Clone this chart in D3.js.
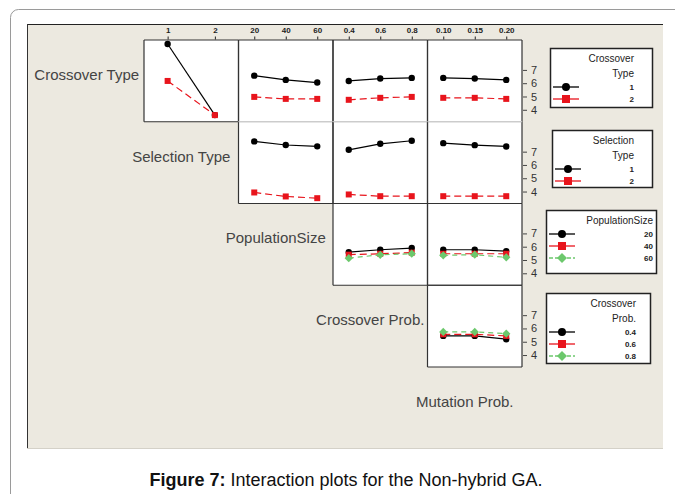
<!DOCTYPE html>
<html>
<head>
<meta charset="utf-8">
<script src="https://cdn.jsdelivr.net/npm/d3@7"></script>
<style>
  body { margin: 0; background: #fff; }
  svg { display: block; }
  text { font-family: "Liberation Sans", Arial, sans-serif; }
</style>
</head>
<body>
<div id="chart"></div>
<script>
// factors of the matrix, in row/column order
var factors = ['Crossover Type', 'Selection Type', 'PopulationSize', 'Crossover Prob.', 'Mutation Prob.'];
var levels = [
  ['1', '2'],
  ['1', '2'],
  ['20', '40', '60'],
  ['0.4', '0.6', '0.8'],
  ['0.10', '0.15', '0.20']
];
var yTicks = [4, 5, 6, 7];

// mean response, one array per trace level (row factor) against column factor
var crossTypeSel = [[8.95, 3.60], [6.17, 3.60]];
var crossTypePop = [[6.57, 6.25, 6.05], [4.97, 4.82, 4.82]];
var crossTypeCP  = [[6.17, 6.35, 6.40], [4.75, 4.90, 4.97]];
var crossTypeMP  = [[6.40, 6.35, 6.25], [4.90, 4.90, 4.82]];
var selTypePop   = [[7.77, 7.50, 7.40], [3.93, 3.63, 3.50]];
var selTypeCP    = [[7.14, 7.59, 7.82], [3.78, 3.65, 3.65]];
var selTypeMP    = [[7.64, 7.49, 7.39], [3.65, 3.65, 3.65]];
var popCP        = [[5.59, 5.77, 5.90], [5.40, 5.47, 5.55], [5.14, 5.39, 5.47]];
var popMP        = [[5.77, 5.77, 5.67], [5.47, 5.47, 5.47], [5.35, 5.40, 5.20]];
var cpMP         = [[5.44, 5.44, 5.19], [5.56, 5.56, 5.44], [5.74, 5.74, 5.61]];

var panels = [
  { row: 0, col: 1, data: crossTypeSel },
  { row: 0, col: 2, data: crossTypePop },
  { row: 0, col: 3, data: crossTypeCP },
  { row: 0, col: 4, data: crossTypeMP },
  { row: 1, col: 2, data: selTypePop },
  { row: 1, col: 3, data: selTypeCP },
  { row: 1, col: 4, data: selTypeMP },
  { row: 2, col: 3, data: popCP },
  { row: 2, col: 4, data: popMP },
  { row: 3, col: 4, data: cpMP }
];

var colors = ['#000', '#e8141c', '#6cc86c'];
var dashes = [null, '7,4', '5,4'];

var width = 675, height = 494;
var gridLeft = 144 - 94.5, gridTop = 40, cellW = 94.5, cellH = 81.75;

var svg = d3.select('#chart').append('svg')
  .attr('width', width)
  .attr('height', height);

// card border
svg.append('rect')
  .attr('x', 10.5).attr('y', 9.5)
  .attr('width', 700).attr('height', 520)
  .attr('rx', 8)
  .attr('fill', 'none')
  .attr('stroke', '#9a9a9a');

// plot background
svg.append('rect')
  .attr('x', 27).attr('y', 24)
  .attr('width', 636).attr('height', 424)
  .attr('fill', '#ece9e0');
svg.append('line').attr('x1', 27).attr('x2', 663).attr('y1', 24.5).attr('y2', 24.5).attr('stroke', '#222');
svg.append('line').attr('x1', 27.5).attr('x2', 27.5).attr('y1', 24).attr('y2', 448).attr('stroke', '#333');
svg.append('line').attr('x1', 27).attr('x2', 663).attr('y1', 448.5).attr('y2', 448.5).attr('stroke', '#d4d1c8');

function colX(c) { return gridLeft + c * cellW; }
function rowY(r) { return gridTop + r * cellH; }

function xScale(c) {
  return d3.scalePoint().domain(levels[c]).range([colX(c), colX(c) + cellW]).padding(0.5);
}
function yScale(r) {
  return d3.scaleLinear().domain([3.1, 9.25]).range([rowY(r) + cellH, rowY(r)]);
}

// circle, square, diamond (square turned 45 degrees)
var symbols = [d3.symbolCircle, d3.symbolSquare, d3.symbolSquare];
var rotate = [0, 0, 45];

function drawMarker(g, i, x, y, s) {
  g.append('path')
    .attr('d', d3.symbol().type(symbols[i]).size(s))
    .attr('transform', 'translate(' + x + ',' + y + ') rotate(' + rotate[i] + ')')
    .attr('fill', colors[i]);
}

// white panels
panels.forEach(function (p) {
  svg.append('rect')
    .attr('x', colX(p.col)).attr('y', rowY(p.row))
    .attr('width', cellW).attr('height', cellH)
    .attr('fill', '#fff');
});

// panel borders
panels.forEach(function (p) {
  var x0 = colX(p.col), y0 = rowY(p.row);
  var g = svg.append('g').attr('stroke-width', 1.2);
  g.append('line').attr('x1', x0).attr('x2', x0).attr('y1', y0).attr('y2', y0 + cellH).attr('stroke', '#333');
  g.append('line').attr('x1', x0 + cellW).attr('x2', x0 + cellW).attr('y1', y0).attr('y2', y0 + cellH).attr('stroke', '#333');
  g.append('line').attr('x1', x0).attr('x2', x0 + cellW).attr('y1', y0).attr('y2', y0)
    .attr('stroke', p.row === 1 && p.col > 1 ? '#c8c8c8' : '#333');
  g.append('line').attr('x1', x0).attr('x2', x0 + cellW).attr('y1', y0 + cellH).attr('y2', y0 + cellH)
    .attr('stroke', p.row === 0 && p.col > 1 ? '#c8c8c8' : '#333');
});

// interaction lines and markers
panels.forEach(function (p) {
  var x = xScale(p.col), y = yScale(p.row);
  var g = svg.append('g');
  p.data.forEach(function (vals, i) {
    var line = d3.line()
      .x(function (d, j) { return x(levels[p.col][j]); })
      .y(function (d) { return y(d); });
    g.append('path')
      .attr('d', line(vals))
      .attr('fill', 'none')
      .attr('stroke', colors[i])
      .attr('stroke-width', 1.2)
      .attr('stroke-dasharray', dashes[i]);
  });
  p.data.forEach(function (vals, i) {
    vals.forEach(function (v, j) {
      drawMarker(g, i, x(levels[p.col][j]), y(v), [32, 36, 34][i]);
    });
  });
});

// top axes
for (var c = 1; c < 5; c++) {
  var ax = svg.append('g')
    .attr('transform', 'translate(0,' + (gridTop - 0.5) + ')')
    .call(d3.axisTop(xScale(c)).tickSize(3).tickPadding(4));
  ax.select('.domain').remove();
  ax.selectAll('line').attr('stroke', '#222');
  ax.selectAll('text').attr('font-size', 8).attr('font-weight', 'bold').attr('fill', '#222')
    .style('font-family', '"Liberation Sans Narrow", "Liberation Sans", sans-serif');
}

// right axes
for (var r = 0; r < 4; r++) {
  var ay = svg.append('g')
    .attr('transform', 'translate(' + (colX(4) + cellW + 1) + ',0)')
    .call(d3.axisRight(yScale(r)).tickValues(yTicks).tickFormat(d3.format('d')).tickSize(4).tickPadding(4));
  ay.select('.domain').remove();
  ay.selectAll('line').attr('stroke', '#444');
  ay.selectAll('text').attr('font-size', 11).attr('fill', '#333');
}

// factor names on the diagonal
factors.forEach(function (f, i) {
  svg.append('text')
    .attr('x', colX(i) + cellW / 2 - 10)
    .attr('y', rowY(i) + cellH / 2 - 1)
    .attr('text-anchor', 'middle')
    .attr('font-size', 15)
    .attr('fill', '#444')
    .text(f);
});

// legends
var legends = [
  { x: 550, y: 48, w: 102, h: 59, title: ['Crossover', 'Type'], right: 634, lvls: levels[0] },
  { x: 552, y: 130, w: 100, h: 57, title: ['Selection', 'Type'], right: 634, lvls: levels[1] },
  { x: 546, y: 210, w: 110, h: 63, title: ['PopulationSize'], right: 653, lvls: levels[2] },
  { x: 546, y: 293, w: 104, h: 70, title: ['Crossover', 'Prob.'], right: 636, lvls: levels[3] }
];

legends.forEach(function (L) {
  var g = svg.append('g');
  g.append('rect')
    .attr('x', L.x + 0.5).attr('y', L.y + 0.5)
    .attr('width', L.w).attr('height', L.h)
    .attr('fill', '#fff')
    .attr('stroke', '#222')
    .attr('stroke-width', 1.5);
  L.title.forEach(function (t, k) {
    g.append('text')
      .attr('x', L.right).attr('y', L.y + 14 + k * 15)
      .attr('text-anchor', 'end')
      .attr('font-size', 10)
      .attr('fill', '#222')
      .text(t);
  });
  var y0 = L.y + 12 + L.title.length * 15 - 3;
  L.lvls.forEach(function (lv, i) {
    var yy = y0 + i * 12;
    g.append('line')
      .attr('x1', L.x + 3).attr('x2', L.x + 29)
      .attr('y1', yy).attr('y2', yy)
      .attr('stroke', colors[i])
      .attr('stroke-width', 1.3)
      .attr('stroke-dasharray', i === 2 ? '4,2' : null);
    drawMarker(g, i, L.x + 16, yy, [50, 64, 50][i]);
    g.append('text')
      .attr('x', L.right).attr('y', yy + 3)
      .attr('text-anchor', 'end')
      .attr('font-size', 8)
      .attr('font-weight', 'bold')
      .attr('fill', '#222')
      .style('font-family', '"Liberation Sans Narrow", "Liberation Sans", sans-serif')
      .text(lv);
  });
});

// caption
var cap = svg.append('text')
  .attr('x', 346).attr('y', 486)
  .attr('text-anchor', 'middle')
  .attr('font-size', 18)
  .attr('fill', '#111');
cap.append('tspan').attr('font-weight', 'bold').text('Figure 7:');
cap.append('tspan').text(' Interaction plots for the Non-hybrid GA.');
</script>
</body>
</html>
